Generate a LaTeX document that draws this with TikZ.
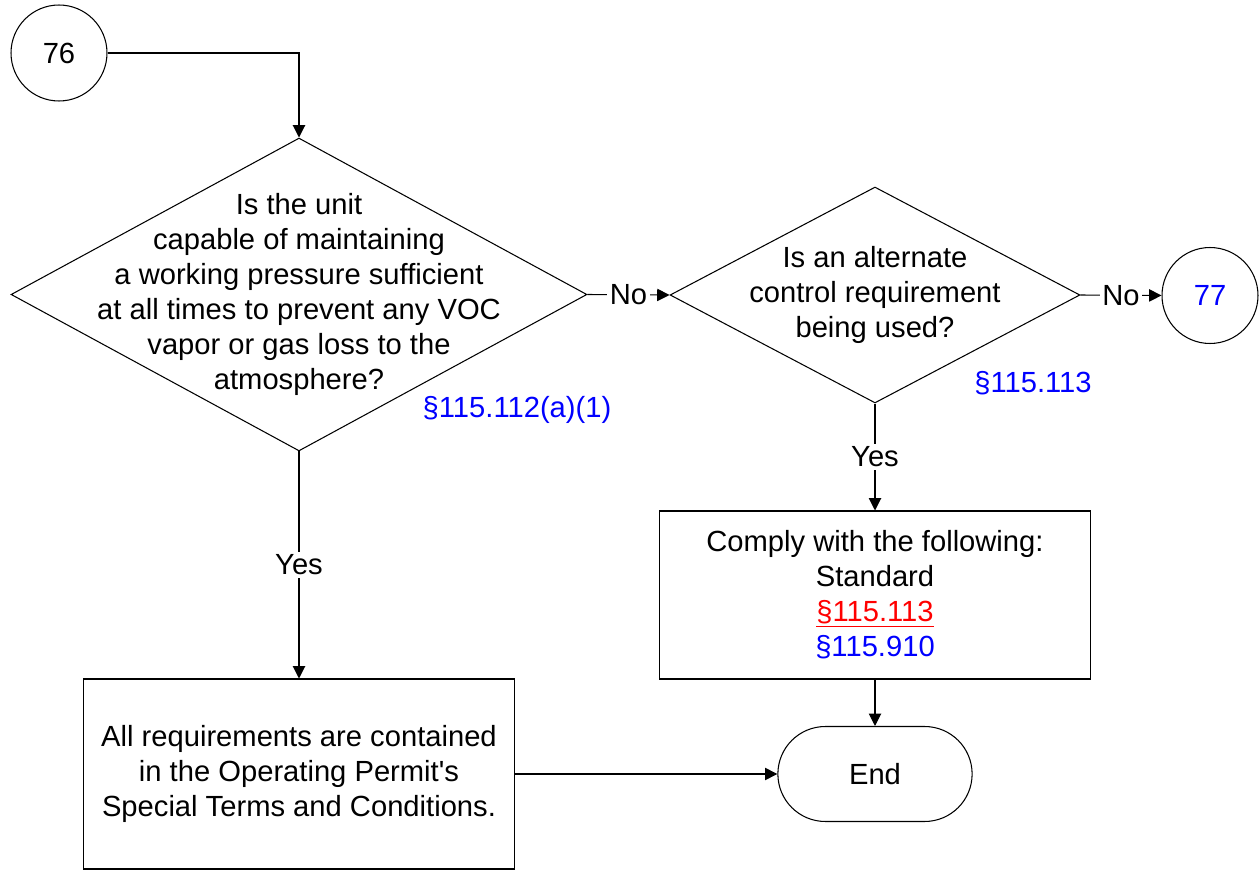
\documentclass[tikz,border=0pt]{standalone}
\usepackage{fontspec}
\setmainfont{Liberation Sans}[Ligatures=TeXOff]
\usetikzlibrary{positioning,shapes.geometric,shapes.misc,arrows.meta}

\begin{document}
\begin{tikzpicture}[
x=0.02cm, y=-0.02cm,
font=\fontsize{16.6pt}{19.9pt}\selectfont,
connectornode/.style={circle, draw, line width=0.6pt, minimum size=1.92cm, inner sep=0pt},
decisionnode/.style={diamond, draw, line width=0.6pt, inner sep=0pt},
textnode/.style={align=center, inner sep=0pt},
squarednode/.style={rectangle, draw, line width=0.6pt, minimum width=8.64cm, align=center},
endnode/.style={rounded rectangle, draw, line width=0.6pt, minimum width=4.12cm, minimum height=1.9cm},
reflabel/.style={text=blue, inner sep=0pt},
arrowline/.style={line width=0.6pt, -{Triangle[length=7pt,width=7pt]}},
edgelabel/.style={fill=white, inner sep=1.5pt},
]
\useasboundingbox (0,0) rectangle (1259,871);

%Nodes
\node[connectornode]    (C76)       at (59,53)          {76};
\node[decisionnode, minimum width=11.52cm, minimum height=6.26cm] (Q1) at (299,294.5) {};
\node[textnode]         (Q1text)    at (Q1)             {Is the unit\\capable of maintaining\\a working pressure sufficient\\at all times to prevent any VOC\\vapor or gas loss to the\\atmosphere?};
\node[reflabel]         (Q1ref)     at (517,410)        {§115.112(a)(1)};
\node[decisionnode, minimum width=8.2cm, minimum height=4.32cm] (Q2) at (875,295) {};
\node[textnode]         (Q2text)    at (Q2)             {Is an alternate\\control requirement\\being used?};
\node[reflabel]         (Q2ref)     at (1033,383)       {§115.113};
\node[connectornode, text=blue] (C77) at (1210,295.5)   {77};
\node[squarednode, minimum height=3.36cm] (Comply) at (875,595)
  {Comply with the following:\\Standard\\{\color{red}\underline{§115.113}}\\{\color{blue}§115.910}};
\node[squarednode, minimum height=3.8cm]  (Permit) at (299,774)
  {All requirements are contained\\in the Operating Permit's\\Special Terms and Conditions.};
\node[endnode]          (End)       at (875,774)        {End};

%Lines
\draw[arrowline] (C76.east) -| (Q1.north);
\draw[arrowline] (Q1.east) -- node[edgelabel] {No} (Q2.west);
\draw[arrowline] (Q2.east) -- node[edgelabel] {No} (C77.west);
\draw[arrowline] (Q2.south) -- node[edgelabel] {Yes} (Comply.north);
\draw[arrowline] (Q1.south) -- node[edgelabel] {Yes} (Permit.north);
\draw[arrowline] (Comply.south) -- (End.north);
\draw[arrowline] (Permit.east) -- (End.west);
\end{tikzpicture}
\end{document}
